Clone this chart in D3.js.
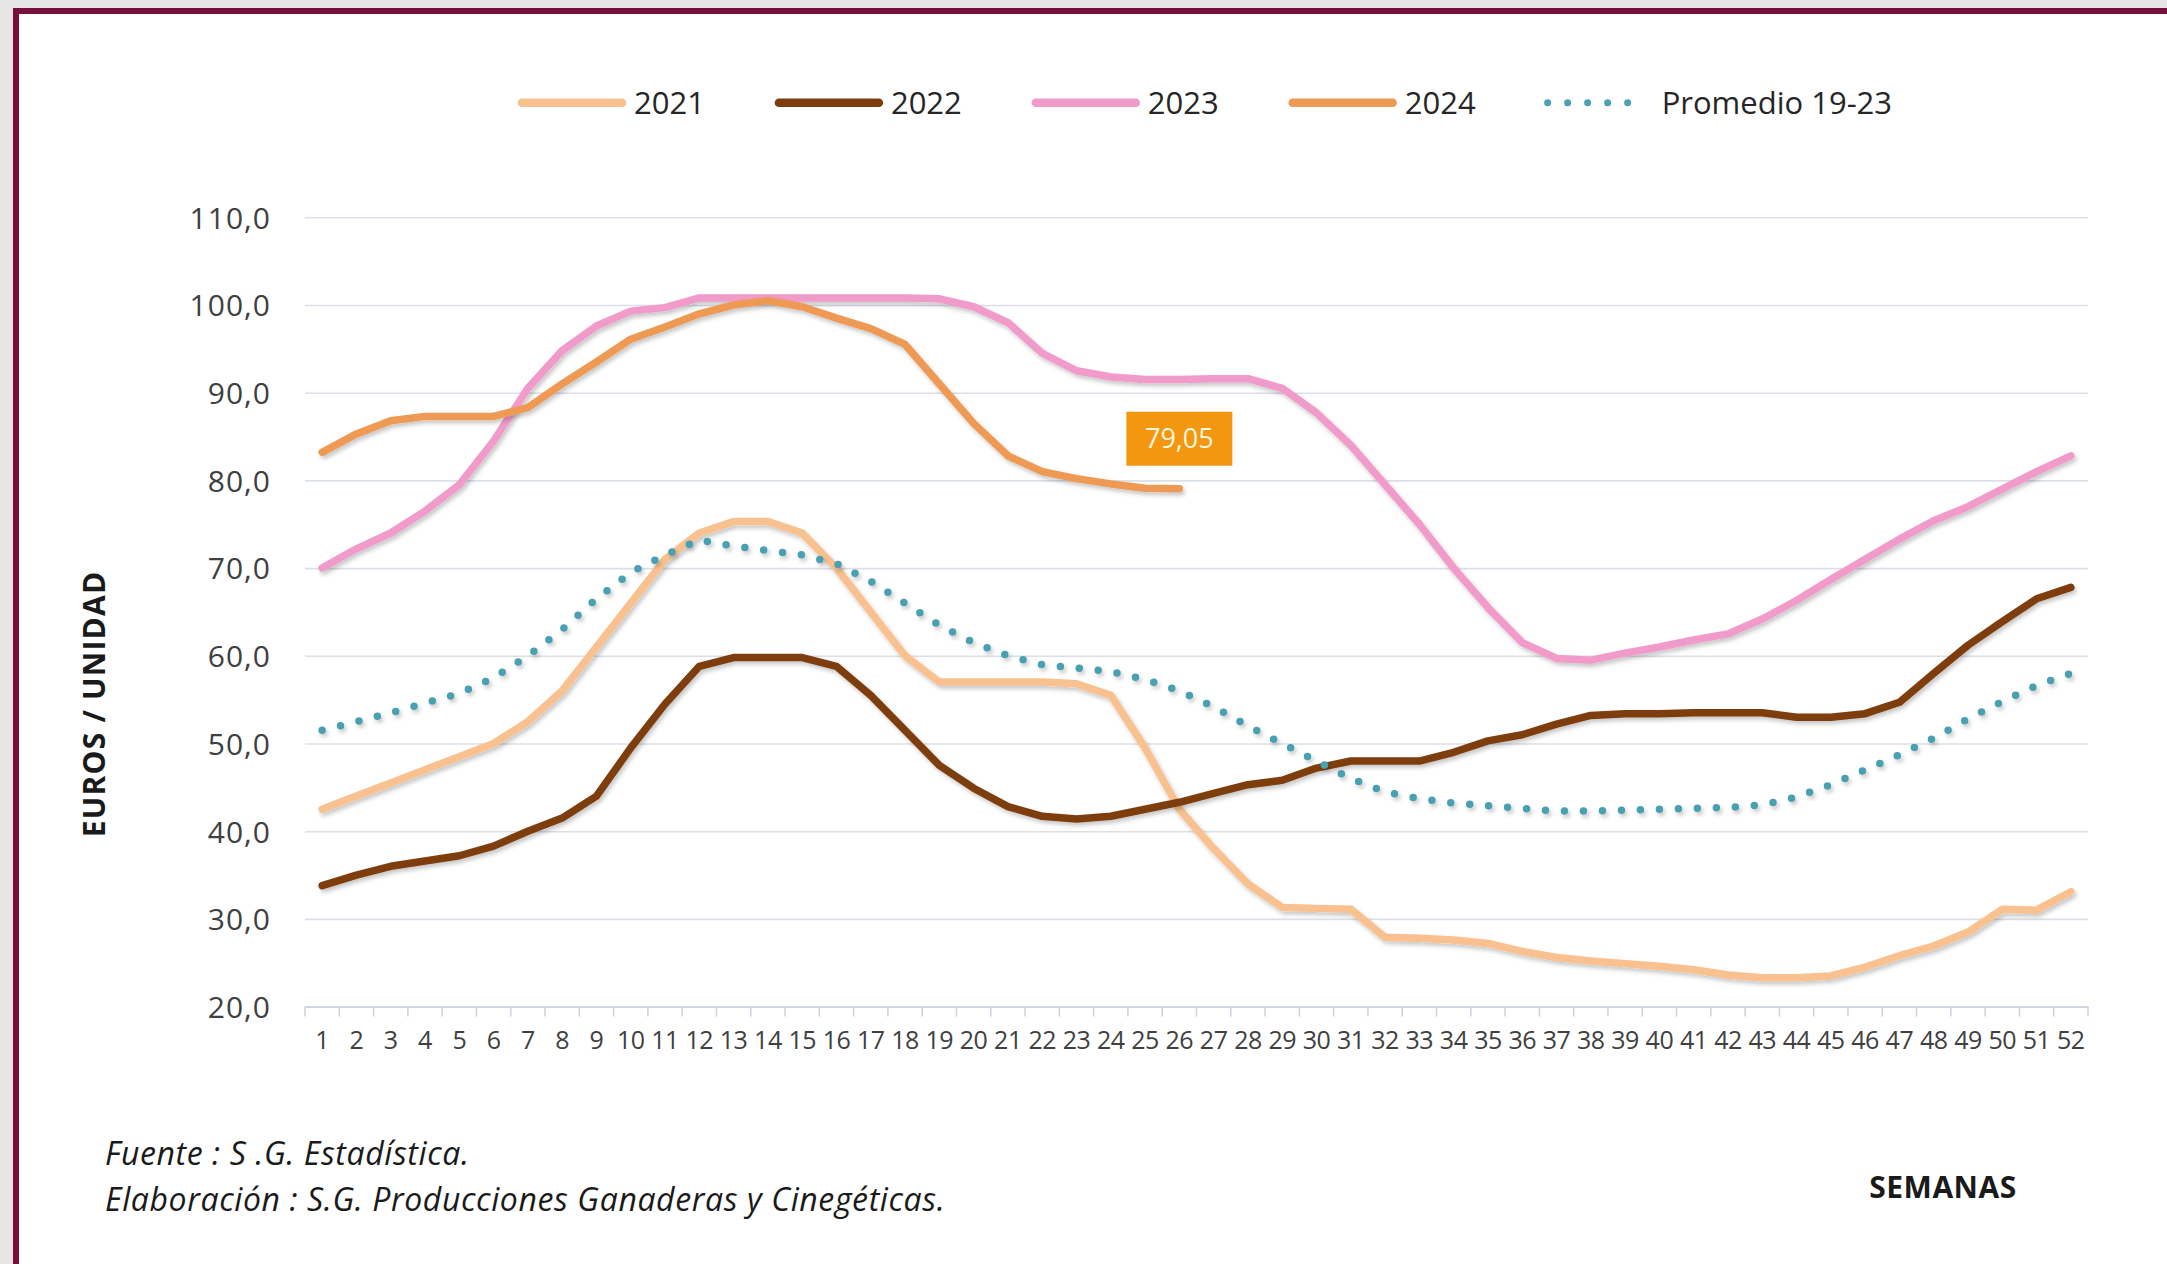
<!DOCTYPE html>
<html>
<head>
<meta charset="utf-8">
<script src="https://cdn.jsdelivr.net/npm/d3@7"></script>
<style>
  html, body { margin: 0; padding: 0; background: #e6e6e6; }
  svg { display: block; }
</style>
</head>
<body>
<svg id="chart" width="2167" height="1264"></svg>
<script>
// ---------------- DATA ----------------
const weeks = [1,2,3,4,5,6,7,8,9,10,11,12,13,14,15,16,17,18,19,20,21,22,23,24,25,26,
               27,28,29,30,31,32,33,34,35,36,37,38,39,40,41,42,43,44,45,46,47,48,49,50,51,52];
const yTicks = [20,30,40,50,60,70,80,90,100,110];

const s2021 = [42.5,44,45.5,47,48.5,50,52.5,56,61,66,
               71,74,75.3,75.3,74,70,65,60,57,57,
               57,57,56.8,55.5,49.5,42.5,38,34,31.3,31.2,
               31.1,27.9,27.8,27.6,27.2,26.3,25.6,25.2,24.9,24.6,
               24.2,23.6,23.3,23.3,23.5,24.5,25.8,26.9,28.5,31.1,
               31,33.1];
const s2022 = [33.8,35,36,36.6,37.2,38.3,40,41.5,44,49.5,
               54.5,58.8,59.8,59.8,59.8,58.8,55.5,51.5,47.5,44.9,
               42.8,41.7,41.4,41.7,42.5,43.3,44.3,45.3,45.8,47.2,
               48,48,48,49,50.3,51,52.2,53.2,53.4,53.4,
               53.5,53.5,53.5,53,53,53.4,54.7,58,61.2,63.9,
               66.5,67.8];
const s2023 = [70,72.2,74,76.5,79.5,84.5,90.5,94.8,97.6,99.3,
               99.7,100.8,100.8,100.8,100.8,100.8,100.8,100.8,100.7,99.8,
               98,94.5,92.5,91.8,91.5,91.5,91.6,91.6,90.5,87.7,
               84,79.5,75,70,65.5,61.5,59.7,59.5,60.3,61,
               61.8,62.5,64.2,66.3,68.7,71,73.3,75.4,77,79,
               81,82.8];
const s2024 = [83.2,85.3,86.8,87.3,87.3,87.3,88.3,91,93.5,96.1,
               97.5,99,100,100.5,99.8,98.5,97.3,95.5,91,86.5,
               82.8,81,80.2,79.6,79.1,79.05];
const sProm = [51.5,52.5,53.5,54.6,55.7,57.5,60,63,66.5,69.5,
               71.5,73.2,72.5,72,71.5,70.5,68.5,66,63.5,61.5,
               60,59,58.6,58.2,57.3,56,54.2,52,50,48,
               46,44.5,43.7,43.2,42.9,42.6,42.3,42.3,42.4,42.5,
               42.6,42.7,43,43.9,45.3,47,48.7,50.6,52.8,54.8,
               56.6,58];

const seriesNames = ["2021","2022","2023","2024","Promedio 19-23"];
const seriesValues = [s2021, s2022, s2023, s2024, sProm];
const seriesColors = ["#f9c18f","#7e3d0e","#f09bca","#ee9a55","#4aa0b0"];
const seriesDotted = [false,false,false,false,true];

const lastLabelText = "79,05";
const yTitle = "EUROS / UNIDAD";
const xTitle = "SEMANAS";
const source1 = "Fuente :  S .G. Estadística.";
const source2 = "Elaboración : S.G. Producciones Ganaderas y Cinegéticas.";

// ---------------- LAYOUT ----------------
const W = 2167, H = 1264;
const plot = { left: 305, right: 2088, top: 217.3, bottom: 1006.6 };
const svg = d3.select("#chart");
const FONT = "'Open Sans', 'DejaVu Sans', sans-serif";

// background & frame
svg.append("rect").attr("x",0).attr("y",0).attr("width",W).attr("height",H).attr("fill","#e6e6e6");
svg.append("rect").attr("x",13).attr("y",8).attr("width",W+20).attr("height",H+20).attr("fill","#76103a");
svg.append("rect").attr("x",19).attr("y",14).attr("width",W+20).attr("height",H+20).attr("fill","#ffffff");

// shadow filter
const defs = svg.append("defs");
const f = defs.append("filter").attr("id","shadow").attr("x","-5%").attr("y","-5%").attr("width","110%").attr("height","120%");
f.append("feDropShadow").attr("dx",2).attr("dy",3).attr("stdDeviation",2.2)
  .attr("flood-color","#000").attr("flood-opacity",0.22);

// scales
const x = d3.scaleBand().domain(weeks).range([plot.left, plot.right]).padding(0);
const y = d3.scaleLinear().domain([20,110]).range([plot.bottom, plot.top]);
const fmt = d3.formatLocale({decimal: ",", thousands: ".", grouping: [3], currency: ["","€"]}).format(".1f");

// y axis with grid
const yAxis = svg.append("g").attr("transform",`translate(${plot.left},0)`)
  .call(d3.axisLeft(y).tickValues(yTicks).tickSize(-(plot.right - plot.left)).tickPadding(34).tickFormat(fmt));
yAxis.select(".domain").remove();
yAxis.selectAll(".tick line").attr("stroke","#dadfe8").attr("stroke-width",1.6);
yAxis.selectAll(".tick text").attr("font-family",FONT).attr("font-size",30).attr("fill","#404040")
  .attr("letter-spacing",1).attr("dy","0.36em");

// x axis
const xAxis = svg.append("g").attr("transform",`translate(0,${plot.bottom})`)
  .call(d3.axisBottom(x).tickSize(0).tickPadding(25));
xAxis.select(".domain").attr("stroke","#cfd5de").attr("stroke-width",1.8);
xAxis.selectAll(".tick text").attr("font-family",FONT).attr("font-size",25).attr("fill","#404040")
  .attr("letter-spacing",-0.5);
// boundary tick marks
const bounds = weeks.map(w => x(w)).concat([x(weeks[weeks.length-1]) + x.bandwidth()]);
svg.append("g").selectAll("line").data(bounds).join("line")
  .attr("x1",d=>d).attr("x2",d=>d).attr("y1",plot.bottom).attr("y2",plot.bottom+10)
  .attr("stroke","#cfd5de").attr("stroke-width",1.6);

// lines
const line = d3.line()
  .x((d,i) => x(weeks[i]) + x.bandwidth()/2)
  .y(d => y(d))
  .curve(d3.curveLinear);

const gLines = svg.append("g");
seriesValues.forEach((vals, k) => {
  const p = gLines.append("path").datum(vals)
    .attr("d", line)
    .attr("fill","none")
    .attr("stroke", seriesColors[k])
    .attr("stroke-linejoin","round")
    .attr("stroke-linecap","round")
    .attr("stroke-width",7.5)
    .attr("filter","url(#shadow)");
  if (seriesDotted[k]) p.attr("stroke-dasharray","0 19");
});

// label for last 2024 value
const lastIdx = s2024.length - 1;
const lx = x(weeks[lastIdx]) + x.bandwidth()/2;
const ly = y(s2024[lastIdx]) - 50;
svg.append("rect").attr("x",lx-53).attr("y",ly-27).attr("width",106).attr("height",54).attr("fill","#f39610");
svg.append("text").attr("x",lx).attr("y",ly).attr("dy","0.36em").attr("text-anchor","middle")
  .attr("font-family",FONT).attr("font-size",27).attr("fill","#fff6dc").text(lastLabelText);

// legend
const legY = 102.7;
let cx = 518;
const gLeg = svg.append("g");
seriesNames.forEach((name, k) => {
  const ln = gLeg.append("line").attr("y1",legY).attr("y2",legY)
    .attr("stroke",seriesColors[k]).attr("stroke-linecap","round");
  if (seriesDotted[k]) ln.attr("stroke-width",7).attr("stroke-dasharray","0 20").attr("x1",cx+2).attr("x2",cx+102);
  else ln.attr("stroke-width",8.5).attr("x1",cx+4).attr("x2",cx+104);
  const tx = cx + 116;
  const t = gLeg.append("text").attr("x",tx).attr("y",legY).attr("dy","0.36em")
    .attr("font-family",FONT).attr("font-size",31).attr("fill","#262626").text(name);
  cx = tx + t.node().getComputedTextLength() + 70;
});

// axis titles
svg.append("text").attr("transform",`translate(94,704) rotate(-90)`)
  .attr("text-anchor","middle").attr("dy","0.36em")
  .attr("font-family",FONT).attr("font-weight","bold").attr("font-size",30).attr("letter-spacing",1.2)
  .attr("fill","#1a1a1a").text(yTitle);
svg.append("text").attr("x",1943).attr("y",1187).attr("dy","0.36em").attr("text-anchor","middle")
  .attr("font-family",FONT).attr("font-weight","bold").attr("font-size",30).attr("letter-spacing",0.5)
  .attr("fill","#1a1a1a").text(xTitle);

// sources
svg.append("text").attr("x",105).attr("y",1165)
  .attr("font-family",FONT).attr("font-style","italic").attr("font-size",32).attr("letter-spacing",0.6)
  .attr("fill","#1a1a1a").text(source1);
svg.append("text").attr("x",105).attr("y",1211)
  .attr("font-family",FONT).attr("font-style","italic").attr("font-size",32).attr("letter-spacing",0.6)
  .attr("fill","#1a1a1a").text(source2);
</script>
</body>
</html>
